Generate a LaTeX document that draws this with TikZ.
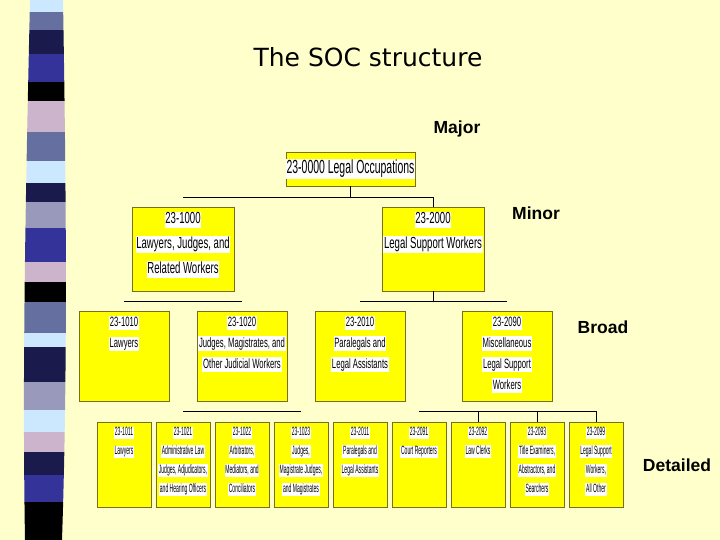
\documentclass[tikz,border=0pt]{standalone}
\usepackage{fontspec}
\setmainfont{Liberation Sans}
\newfontfamily\titlefont{DejaVu Sans}
\newfontfamily\majorfont[FakeStretch=0.55]{Liberation Sans}
\newfontfamily\minorfont[FakeStretch=0.6]{Liberation Sans}
\newfontfamily\broadfont[FakeStretch=0.57]{Liberation Sans}
\newfontfamily\detailfont[FakeStretch=0.42]{Liberation Sans}
\usetikzlibrary{positioning}
\definecolor{slidebg}{RGB}{255,255,204}
\definecolor{boxyellow}{RGB}{255,255,0}
\definecolor{boxedge}{RGB}{120,110,30}
\definecolor{stripelight}{RGB}{204,232,255}
\definecolor{stripeslate}{RGB}{102,112,160}
\definecolor{stripenavy}{RGB}{26,26,77}
\definecolor{stripeblue}{RGB}{51,51,153}
\definecolor{stripemauve}{RGB}{204,180,204}
\definecolor{stripegrey}{RGB}{153,153,187}
\newcommand{\wl}[1]{{\setlength{\fboxsep}{0.8pt}\colorbox{white}{\vphantom{Ag}#1}}}
\tikzset{
  socbox/.style={draw=boxedge,fill=boxyellow,line width=0.8pt,inner sep=0pt},
  majorbox/.style={socbox,minimum width=129pt,minimum height=34pt},
  minorbox/.style={socbox,minimum width=102pt,minimum height=84pt},
  broadbox/.style={socbox,minimum width=90pt,minimum height=90pt},
  detailbox/.style={socbox,minimum width=54pt,minimum height=85pt},
  majortext/.style={align=center,inner sep=0pt,font=\fontsize{19}{22}\majorfont},
  minortext/.style={align=center,inner sep=0pt,font=\fontsize{16}{25}\minorfont},
  broadtext/.style={align=center,inner sep=0pt,font=\fontsize{13.5}{21}\broadfont},
  detailtext/.style={align=center,inner sep=0pt,font=\fontsize{12}{19}\detailfont},
  levellabel/.style={font=\fontsize{17.5}{20}\selectfont\bfseries},
  link/.style={draw=black,line width=0.9pt}
}

\begin{document}
\begin{tikzpicture}[x=1pt,y=-1pt]
  \fill[slidebg] (0,0) rectangle (720,540);
  \useasboundingbox (0,0) rectangle (720,540);

  % striped band on the left
  \begin{scope}
    \clip (30,0) .. controls (26,180) and (22,360) .. (25,540) -- (62,540)
      .. controls (68,360) and (66,180) .. (63,0) -- cycle;
    \foreach \ya/\yb/\col in {0/12/stripelight,12/30/stripeslate,30/54/stripenavy,
      54/82/stripeblue,82/101/black,101/132/stripemauve,132/161/stripeslate,
      161/183/stripelight,183/202/stripenavy,202/228/stripegrey,228/262/stripeblue,
      262/282/stripemauve,282/302/black,302/333/stripeslate,333/347/stripelight,
      347/382/stripenavy,382/410/stripegrey,410/432/stripelight,432/452/stripemauve,
      452/475/stripenavy,475/502/stripeblue,502/540/black}
      \fill[\col] (0,\ya) rectangle (80,\yb);
  \end{scope}

  \node[font=\fontsize{25}{30}\titlefont] (title) at (368,57) {The SOC structure};

  \node[levellabel] (lmajor) at (457,129) {Major};
  \node[levellabel] (lminor) at (536,213) {Minor};
  \node[levellabel] (lbroad) at (603,327) {Broad};
  \node[levellabel] (ldetail) at (677,465) {Detailed};

  % major and minor groups
  \node[majorbox] (top) at (350.5,169) {};
  \node[majortext] (ttop) at (top) {\wl{23-0000 Legal Occupations}};
  \node[minorbox] (m1000) at (183,249) {};
  \node[minortext,below=5pt of m1000.north] (t1000)
    {\wl{23-1000}\\\wl{Lawyers, Judges, and}\\\wl{Related Workers}};
  \node[minorbox] (m2000) at (433,249) {};
  \node[minortext,below=5pt of m2000.north] (t2000)
    {\wl{23-2000}\\\wl{Legal Support Workers}};

  % broad groups
  \node[broadbox] (b1010) at (124,356) {};
  \node[broadtext,below=5pt of b1010.north] (t1010) {\wl{23-1010}\\\wl{Lawyers}};
  \node[broadbox] (b1020) at (242,356) {};
  \node[broadtext,below=5pt of b1020.north] (t1020)
    {\wl{23-1020}\\\wl{Judges, Magistrates, and}\\\wl{Other Judicial Workers}};
  \node[broadbox] (b2010) at (360,356) {};
  \node[broadtext,below=5pt of b2010.north] (t2010)
    {\wl{23-2010}\\\wl{Paralegals and}\\\wl{Legal Assistants}};
  \node[broadbox] (b2090) at (507,356) {};
  \node[broadtext,below=5pt of b2090.north] (t2090)
    {\wl{23-2090}\\\wl{Miscellaneous}\\\wl{Legal Support}\\\wl{Workers}};

  % detailed occupations
  \foreach \code/\txt [count=\i from 0] in {
    1011/{\wl{23-1011}\\\wl{Lawyers}},
    1021/{\wl{23-1021}\\\wl{Administrative Law}\\\wl{Judges, Adjudicators,}\\\wl{and Hearing Officers}},
    1022/{\wl{23-1022}\\\wl{Arbitrators,}\\\wl{Mediators, and}\\\wl{Conciliators}},
    1023/{\wl{23-1023}\\\wl{Judges,}\\\wl{Magistrate Judges,}\\\wl{and Magistrates}},
    2011/{\wl{23-2011}\\\wl{Paralegals and}\\\wl{Legal Assistants}},
    2091/{\wl{23-2091}\\\wl{Court Reporters}},
    2092/{\wl{23-2092}\\\wl{Law Clerks}},
    2093/{\wl{23-2093}\\\wl{Title Examiners,}\\\wl{Abstractors, and}\\\wl{Searchers}},
    2099/{\wl{23-2099}\\\wl{Legal Support}\\\wl{Workers,}\\\wl{All Other}}} {
    \node[detailbox] (d\code) at ({124+59*\i},464.5) {};
    \node[detailtext,below=5pt of d\code.north] (t\code) {\txt};
  }

  % connectors
  \draw[link] (top.south) -- ++(0,11) coordinate (j0);
  \draw[link] (j0 -| m1000) -- (j0 -| m2000) -- (m2000.north);
  \path (m1000.south) ++(0,10) coordinate (j1);
  \draw[link] (j1 -| b1010) -- (j1 -| b1020);
  \draw[link] (m2000.south) -- ++(0,10) coordinate (j2);
  \draw[link] (j2 -| b2010) -- (j2 -| b2090);
  \path (b1020.south) ++(0,10) coordinate (j3);
  \draw[link] (j3 -| d1021) -- (j3 -| d1023);
  \path (b2090.south) ++(0,10) coordinate (j4);
  \draw[link] (j4 -| d2091) -- (j4 -| d2099);
  \foreach \d in {d2092,d2093,d2099}
    \draw[link] (j4 -| \d) -- (\d.north);
\end{tikzpicture}
\end{document}
